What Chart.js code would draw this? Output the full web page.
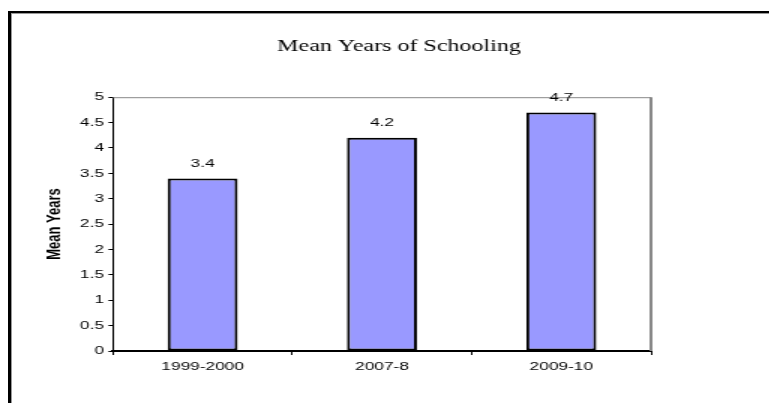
<!DOCTYPE html>
<html>
<head>
<meta charset="utf-8">
<title>Mean Years of Schooling</title>
<script src="https://cdn.jsdelivr.net/npm/chart.js@4/dist/chart.umd.min.js"></script>
<style>
  html, body { margin: 0; padding: 0; background: #fff; width: 769px; height: 403px; overflow: hidden; }
  .frame {
    position: absolute; left: 8px; top: 11px; width: 820px; height: 430px;
    border-left: 3px solid #000; border-top: 2px solid #000;
    box-shadow: inset 1px 1px 0 #999;
  }
  /* old-style chart export: everything is drawn 1.5x wider than tall */
  .stretch { position: absolute; left: 0; top: 0; width: 532px; height: 403px; transform: scaleX(1.5); transform-origin: 0 0; }
</style>
</head>
<body>
<div class="stretch"><canvas id="chart-schooling" width="532" height="403"></canvas></div>
<div class="frame"></div>
<script>
const CATEGORIES = ['1999-2000', '2007-8', '2009-10'];
const MEAN_YEARS = [3.4, 4.2, 4.7];
const Y_MIN = 0;
const Y_MAX = 5;
const Y_STEP = 0.5;

const SANS = "'Liberation Sans', Arial, sans-serif";
const SERIF = "'Liberation Serif', 'Times New Roman', serif";

// gray top/right edges of the plot box
const plotBox = {
  id: 'plotBox',
  beforeDatasetsDraw(chart) {
    const { ctx, chartArea: a } = chart;
    ctx.save();
    ctx.strokeStyle = '#888';
    ctx.lineWidth = 1;
    ctx.beginPath();
    ctx.moveTo(a.left, a.top + 0.5);
    ctx.lineTo(a.right, a.top + 0.5);
    ctx.stroke();
    ctx.lineWidth = 2;
    ctx.beginPath();
    ctx.moveTo(a.right, a.top);
    ctx.lineTo(a.right, a.bottom);
    ctx.stroke();
    ctx.restore();
  }
};

// value written above each bar
const valueLabels = {
  id: 'valueLabels',
  afterDatasetsDraw(chart) {
    const { ctx } = chart;
    const meta = chart.getDatasetMeta(0);
    ctx.save();
    ctx.font = '11.5px ' + SANS;
    ctx.fillStyle = '#000';
    ctx.textAlign = 'center';
    ctx.textBaseline = 'middle';
    meta.data.forEach((bar, i) => {
      ctx.fillText(String(chart.data.datasets[0].data[i]), bar.x, bar.y - 15);
    });
    ctx.restore();
  }
};

new Chart(document.getElementById('chart-schooling'), {
  type: 'bar',
  data: {
    labels: CATEGORIES,
    datasets: [{
      data: MEAN_YEARS,
      backgroundColor: '#9999ff',
      borderColor: '#000',
      borderWidth: 2,
      borderSkipped: false,
      barPercentage: 0.39,
      categoryPercentage: 1
    }]
  },
  options: {
    responsive: false,
    animation: false,
    layout: { padding: 0 },
    plugins: {
      legend: { display: false },
      tooltip: { enabled: false },
      title: {
        display: true,
        text: 'Mean Years of Schooling',
        color: '#000',
        font: { family: SERIF, size: 16, weight: 'normal' },
        padding: { top: 37, bottom: 41 }
      }
    },
    scales: {
      x: {
        afterFit: s => { s.height = 52; },
        ticks: { color: '#000', font: { family: SANS, size: 11.5 }, padding: 5, maxRotation: 0 },
        grid: { display: true, drawOnChartArea: false, tickLength: 4, color: '#000', offset: true },
        border: { display: true, color: '#000', width: 2 }
      },
      y: {
        min: Y_MIN,
        max: Y_MAX,
        afterFit: s => { s.width = 75.3; },
        ticks: {
          stepSize: Y_STEP,
          color: '#000',
          font: { family: SANS, size: 11.5 },
          padding: 3,
          callback: v => String(+v.toFixed(1))
        },
        grid: { display: true, drawOnChartArea: false, tickLength: 3, color: '#000' },
        border: { display: true, color: '#000', width: 1 },
        title: {
          display: true,
          text: 'Mean Years',
          color: '#000',
          font: { family: SANS, size: 13, weight: 'bold' },
          padding: { top: 29, bottom: 0 }
        }
      },
      // empty strip to the right of the plot, keeps the title centred on the whole frame
      side: {
        position: 'right',
        afterFit: s => { s.width = 98; },
        ticks: { display: false },
        grid: { display: false },
        border: { display: false }
      }
    }
  },
  plugins: [plotBox, valueLabels]
});
</script>
</body>
</html>
